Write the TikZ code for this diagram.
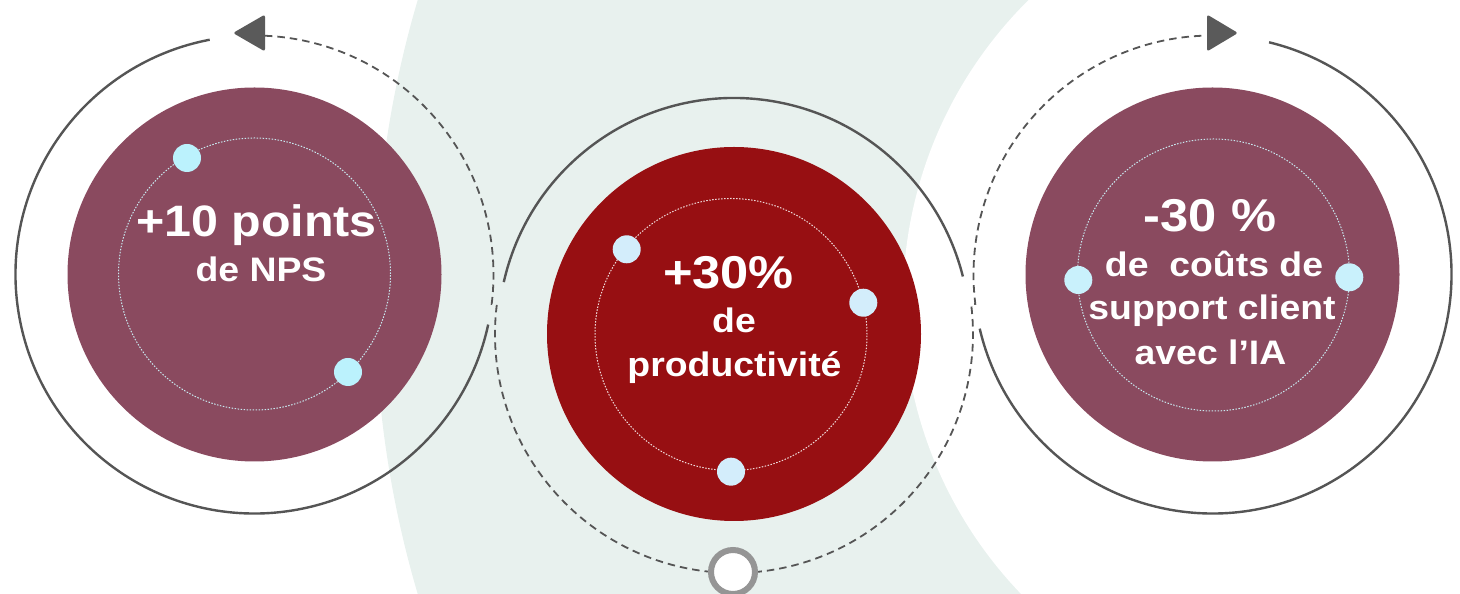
\documentclass[tikz,border=0pt]{standalone}
\usepackage{fontspec}
\setmainfont{Liberation Sans}[FakeStretch=1.1]
\definecolor{plum}{HTML}{8A4A5F}
\definecolor{crimson}{HTML}{970F12}
\definecolor{mint}{HTML}{E8F1EE}
\definecolor{linegray}{HTML}{555555}
\definecolor{arrowgray}{HTML}{5A5A5A}
\definecolor{ringgray}{HTML}{959595}
\definecolor{dotL}{HTML}{BBF2FD}
\definecolor{dotM}{HTML}{D3EDFB}
\definecolor{dotR}{HTML}{C9F1FC}
\definecolor{dotline}{HTML}{C8E8EF}
\newcommand\fbig{\fontsize{44}{48}\selectfont\bfseries}
\newcommand\fnum{\fontsize{46}{50}\selectfont\bfseries}
\newcommand\fmid{\fontsize{34}{40}\selectfont\bfseries}
\begin{document}
\begin{tikzpicture}[x=1pt,y=1pt,
  arcline/.style={draw=linegray, line width=2.4pt},
  dashline/.style={draw=linegray, line width=1.8pt, dash pattern=on 7.5pt off 5pt},
  bigdisc/.style={circle, minimum size=374pt, inner sep=0pt},
  innerdot/.style={draw=dotline, line width=1pt, dash pattern=on 1.5pt off 1.5pt},
  dot/.style={circle, minimum size=28pt, inner sep=0pt},
  tip/.style={fill=arrowgray, rounded corners=2.5pt},
  txt/.style={text=white, anchor=base, inner sep=0pt}]
\useasboundingbox (0,0) rectangle (1460,594);
\begin{scope}
\clip (0,0) rectangle (1460,594);
\fill[mint] (1422,297) circle[radius=1047];
\fill[white] (1326,293.2) circle[radius=423];
\end{scope}
\coordinate (L) at (254.5,319.5);
\coordinate (M) at (734,260);
\coordinate (R) at (1212.5,319.5);
% discs
\node[bigdisc, fill=plum] (dL) at (L) {};
\node[bigdisc, fill=crimson] (dM) at (M) {};
\node[bigdisc, fill=plum] (dR) at (R) {};
% inner dotted circles
\coordinate (iL) at (254.5,320);
\coordinate (iM) at (731,259.5);
\coordinate (iR) at (1213.5,319);
\draw[innerdot] (iL) circle[radius=136];
\draw[innerdot, draw=white!85!crimson] (iM) circle[radius=136];
\draw[innerdot] (iR) circle[radius=136];
% solid arcs
\draw[arcline] ([shift={(100.8:239)}]L) arc[start angle=100.8, end angle=347.9, radius=239];
\draw[arcline] ([shift={(167.3:236)}]M) arc[start angle=167.3, end angle=14.1, radius=236];
\draw[arcline] ([shift={(76.3:239)}]R) arc[start angle=76.3, end angle=-166.9, radius=239];
% dashed S path
\draw[dashline] ([shift={(87.5:239)}]L) arc[start angle=87.5, end angle=-7.07, radius=239]
  -- ([shift={(172.93:239)}]M) arc[start angle=172.93, end angle=367.07, radius=239]
  -- ([shift={(187.07:239)}]R) arc[start angle=187.07, end angle=91.5, radius=239];
% arrow tips
\fill[tip] (233,561) -- (265,579.5) -- (265,542.5) -- cycle;
\fill[tip] (1238,561) -- (1207,579.5) -- (1207,542.5) -- cycle;
% ring
\node[circle, draw=ringgray, line width=6pt, fill=white, minimum size=44pt, inner sep=0pt] (ring) at (733,22) {};
% dots
\node[dot, fill=dotL] (a1) at (187,436) {};
\node[dot, fill=dotL] (a2) at (348,222) {};
\node[dot, fill=dotM] (b1) at (626.7,344.7) {};
\node[dot, fill=dotM] (b2) at (863.3,291.3) {};
\node[dot, fill=dotM] (b3) at (731,122.3) {};
\node[dot, fill=dotR] (c1) at (1078.3,314) {};
\node[dot, fill=dotR] (c2) at (1349.3,316.7) {};
% texts
\node[txt, font=\fbig] (t1) at (256.5,357) {+10 points};
\node[txt, font=\fmid] (t2) at (261,312) {de NPS};
\node[txt, font=\fnum] (t3) at (728.5,305) {+30\%};
\node[txt, font=\fmid] (t4) at (734,261) {de};
\node[txt, font=\fmid] (t5) at (734.5,217) {productivité};
\node[txt, font=\fnum] (t6) at (1210,362) {-30 \%};
\node[txt, font=\fmid] (t7) at (1214,317) {de\ \ coûts de};
\node[txt, font=\fmid] (t8) at (1212,274) {support client};
\node[txt, font=\fmid] (t9) at (1210.5,229) {avec l’IA};
\end{tikzpicture}
\end{document}
